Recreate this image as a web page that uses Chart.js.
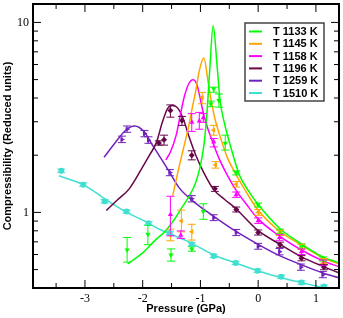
<!DOCTYPE html>
<html>
<head>
<meta charset="utf-8">
<script src="https://cdn.jsdelivr.net/npm/chart.js@4.4.0/dist/chart.umd.min.js"></script>
<style>
  body { margin: 0; background: #fff; }
  canvas { display: block; }
</style>
</head>
<body>
<canvas id="chart" width="343" height="318"></canvas>
<script>
// axis ticks
var xMajorTicks = [-3, -2, -1, 0, 1];
var xMinorTicks = [-3.5, -2.5, -1.5, -0.5, 0.5];
var yMajorTicks = [1, 10];
var yMinorTicks = [0.5, 0.6, 0.7, 0.8, 0.9, 2, 3, 4, 5, 6, 7, 8, 9];

// T 1133 K : fit line + data (with error bars)
var fit1133x = [-2.26, -2.00, -1.80, -1.61, -1.45, -1.32, -1.20, -1.09, -1.01, -0.94, -0.89, -0.84, -0.78, -0.71, -0.66, -0.58, -0.46, -0.32, -0.16, 0.0, 0.37, 0.75, 1.12, 1.40];
var fit1133y = [0.536, 0.612, 0.706, 0.796, 0.92, 1.062, 1.211, 1.416, 1.715, 2.26, 3.24, 5.55, 9.64, 5.83, 3.88, 2.91, 2.13, 1.56, 1.287, 1.10, 0.825, 0.681, 0.583, 0.542];
var p1133x = [-2.27, -1.91, -1.51, -1.15, -0.95, -0.82, -0.77, -0.68, -0.57, -0.38, 0.0, 0.38, 0.75, 1.12];
var p1133y = [0.634, 0.768, 0.597, 0.642, 1.012, 3.72, 4.46, 3.88, 2.31, 1.615, 1.094, 0.796, 0.665, 0.569];
var p1133lo = [0.547, 0.676, 0.554, 0.625, 0.92, 3.6, 4.29, 3.58, 2.13, 1.575, 1.067, 0.776, 0.648, 0.555];
var p1133hi = [0.738, 0.855, 0.642, 0.66, 1.11, 3.85, 4.56, 4.2, 2.55, 1.655, 1.12, 0.816, 0.682, 0.583];

// T 1145 K
var fit1145x = [-1.48, -1.37, -1.28, -1.20, -1.13, -1.08, -1.02, -0.94, -0.87, -0.82, -0.75, -0.65, -0.53, -0.39, -0.20, -0.01, 0.37, 0.75, 1.12, 1.40];
var fit1145y = [1.226, 1.736, 2.26, 2.87, 3.70, 4.37, 5.56, 6.49, 4.93, 3.97, 3.12, 2.46, 1.93, 1.596, 1.27, 1.036, 0.796, 0.673, 0.576, 0.536];
var p1145x = [-1.52, -1.33, -1.15, -0.97, -0.77, -0.74, -0.38, 0.0, 0.38, 0.75, 1.13];
var p1145y = [0.763, 0.901, 0.792, 4.02, 2.71, 1.778, 1.407, 1.0, 0.779, 0.659, 0.556];
var p1145lo = [0.709, 0.79, 0.715, 3.73, 2.55, 1.71, 1.36, 0.965, 0.755, 0.64, 0.54];
var p1145hi = [0.816, 1.028, 0.866, 4.28, 2.87, 1.85, 1.455, 1.035, 0.805, 0.68, 0.572];

// T 1158 K
var fit1158x = [-1.60, -1.52, -1.42, -1.35, -1.28, -1.21, -1.13, -1.06, -1.01, -0.96, -0.89, -0.80, -0.68, -0.54, -0.39, -0.20, -0.01, 0.37, 0.75, 1.12, 1.40];
var fit1158y = [1.888, 2.08, 2.55, 3.24, 4.06, 4.70, 4.99, 4.70, 4.06, 3.44, 2.87, 2.40, 1.93, 1.58, 1.318, 1.10, 0.93, 0.75, 0.634, 0.556, 0.517];
var p1158x = [-1.52, -1.34, -1.15, -1.02, -0.95, -0.77, -0.38, 0.0, 0.37, 0.75, 1.13];
var p1158y = [0.976, 0.759, 2.98, 3.03, 3.15, 2.35, 1.24, 0.905, 0.738, 0.621, 0.543];
var p1158lo = [0.753, 0.73, 2.67, 2.74, 2.98, 2.21, 1.20, 0.875, 0.713, 0.60, 0.525];
var p1158hi = [1.216, 0.799, 3.31, 3.36, 3.31, 2.45, 1.28, 0.935, 0.763, 0.642, 0.561];

// T 1196 K
var fit1196x = [-2.63, -2.43, -2.23, -2.00, -1.88, -1.76, -1.66, -1.57, -1.49, -1.40, -1.30, -1.20, -1.08, -0.94, -0.77, -0.58, -0.39, -0.01, 0.37, 0.75, 1.14, 1.40];
var fit1196y = [1.024, 1.169, 1.334, 1.736, 2.006, 2.344, 2.98, 3.52, 3.65, 3.56, 3.12, 2.52, 2.0, 1.615, 1.318, 1.169, 1.049, 0.806, 0.681, 0.583, 0.517, 0.481];
var p1196x = [-1.72, -1.63, -1.52, -1.32, -1.15, -0.75, -0.38, 0.0, 0.38, 0.75, 1.14];
var p1196y = [2.32, 2.41, 3.44, 3.05, 2.0, 1.33, 1.036, 0.784, 0.676, 0.574, 0.515];
var p1196lo = [2.26, 2.26, 3.17, 2.87, 1.89, 1.29, 1.005, 0.76, 0.655, 0.556, 0.499];
var p1196hi = [2.38, 2.55, 3.68, 3.20, 2.11, 1.37, 1.067, 0.808, 0.697, 0.592, 0.531];

// T 1259 K
var fit1259x = [-2.67, -2.48, -2.28, -2.14, -1.97, -1.85, -1.71, -1.54, -1.37, -1.15, -0.77, -0.39, -0.01, 0.37, 0.75, 1.12, 1.40];
var fit1259y = [1.95, 2.32, 2.73, 2.85, 2.65, 2.31, 1.98, 1.64, 1.35, 1.16, 0.953, 0.796, 0.681, 0.592, 0.53, 0.48, 0.453];
var p1259x = [-2.36, -2.27, -1.97, -1.90, -1.53, -1.15, -0.77, -0.38, 0.0, 0.37, 0.74, 1.12];
var p1259y = [2.42, 2.74, 2.60, 2.40, 1.62, 1.18, 0.938, 0.784, 0.663, 0.621, 0.515, 0.47];
var p1259lo = [2.33, 2.64, 2.50, 2.31, 1.56, 1.135, 0.905, 0.755, 0.64, 0.598, 0.496, 0.453];
var p1259hi = [2.52, 2.85, 2.70, 2.50, 1.68, 1.225, 0.972, 0.813, 0.687, 0.645, 0.535, 0.488];

// T 1510 K
var fit1510x = [-3.45, -3.03, -2.64, -2.30, -2.00, -1.71, -1.20, -0.77, -0.39, -0.01, 0.40, 0.75, 1.16];
var fit1510y = [1.56, 1.40, 1.17, 1.01, 0.91, 0.815, 0.70, 0.597, 0.542, 0.493, 0.453, 0.427, 0.40];
var p1510x = [-3.41, -3.03, -2.66, -2.28, -1.90, -1.53, -1.15, -0.77, -0.39, -0.01, 0.40, 0.75, 1.14];
var p1510y = [1.655, 1.40, 1.145, 1.01, 0.877, 0.78, 0.679, 0.59, 0.542, 0.493, 0.458, 0.427, 0.407];
var p1510lo = [1.62, 1.37, 1.12, 0.99, 0.86, 0.765, 0.665, 0.578, 0.531, 0.483, 0.449, 0.418, 0.401];
var p1510hi = [1.69, 1.43, 1.17, 1.03, 0.895, 0.795, 0.693, 0.602, 0.553, 0.503, 0.467, 0.436, 0.415];

var labels = ['T 1133 K', 'T 1145 K', 'T 1158 K', 'T 1196 K', 'T 1259 K', 'T 1510 K'];
var colors = ['#00ff00', '#ffa500', '#ff00ff', '#670748', '#7221bc', '#40e0d0'];

var series = [
    { fx: fit1133x, fy: fit1133y, x: p1133x, y: p1133y, lo: p1133lo, hi: p1133hi, style: 'triangle', rot: 180 },
    { fx: fit1145x, fy: fit1145y, x: p1145x, y: p1145y, lo: p1145lo, hi: p1145hi, style: 'triangle', rot: 270 },
    { fx: fit1158x, fy: fit1158y, x: p1158x, y: p1158y, lo: p1158lo, hi: p1158hi, style: 'triangle', rot: 0 },
    { fx: fit1196x, fy: fit1196y, x: p1196x, y: p1196y, lo: p1196lo, hi: p1196hi, style: 'rectRot', rot: 0 },
    { fx: fit1259x, fy: fit1259y, x: p1259x, y: p1259y, lo: p1259lo, hi: p1259hi, style: 'triangle', rot: 90 },
    { fx: fit1510x, fy: fit1510y, x: p1510x, y: p1510y, lo: p1510lo, hi: p1510hi, style: 'circle', rot: 0 }
];

var datasets = [];
series.forEach((s, i) => {
    datasets.push({
        label: labels[i],
        data: s.fx.map((v, j) => ({ x: v, y: s.fy[j] })),
        showLine: true,
        cubicInterpolationMode: 'monotone',
        borderColor: colors[i],
        borderWidth: 1.5,
        pointRadius: 0,
        fill: false
    });
    datasets.push({
        label: labels[i] + ' data',
        data: s.x.map((v, j) => ({ x: v, y: s.y[j] })),
        showLine: false,
        pointStyle: s.style,
        rotation: s.rot,
        pointRadius: 3,
        backgroundColor: colors[i],
        borderColor: colors[i],
        borderWidth: 0,
        errLo: s.lo,
        errHi: s.hi
    });
});

// vertical error bars with caps
const errorBars = {
    id: 'errorBars',
    afterDatasetsDraw(chart) {
        const ctx = chart.ctx, ys = chart.scales.y;
        ctx.save();
        ctx.lineWidth = 1;
        chart.data.datasets.forEach((ds, i) => {
            if (!ds.errLo) return;
            chart.getDatasetMeta(i).data.forEach((pt, j) => {
                const y1 = ys.getPixelForValue(ds.errLo[j]);
                const y2 = ys.getPixelForValue(ds.errHi[j]);
                ctx.strokeStyle = ds.borderColor;
                ctx.beginPath();
                ctx.moveTo(pt.x, y1); ctx.lineTo(pt.x, y2);
                ctx.moveTo(pt.x - 4, y1); ctx.lineTo(pt.x + 4, y1);
                ctx.moveTo(pt.x - 4, y2); ctx.lineTo(pt.x + 4, y2);
                ctx.stroke();
            });
        });
        ctx.restore();
    }
};

// frame, inward ticks on all four sides, boxed legend
const frame = {
    id: 'frame',
    afterDraw(chart) {
        const ctx = chart.ctx, a = chart.chartArea;
        const xs = chart.scales.x, ys = chart.scales.y;
        ctx.save();
        ctx.strokeStyle = '#000';
        ctx.lineWidth = 1;
        ctx.beginPath();
        const xt = (v, len) => {
            const p = xs.getPixelForValue(v);
            ctx.moveTo(p, a.bottom); ctx.lineTo(p, a.bottom - len);
            ctx.moveTo(p, a.top); ctx.lineTo(p, a.top + len);
        };
        const yt = (v, len) => {
            const p = ys.getPixelForValue(v);
            ctx.moveTo(a.left, p); ctx.lineTo(a.left + len, p);
            ctx.moveTo(a.right, p); ctx.lineTo(a.right - len, p);
        };
        xMajorTicks.forEach(v => xt(v, 8));
        xMinorTicks.forEach(v => xt(v, 5));
        yMajorTicks.forEach(v => yt(v, 8));
        yMinorTicks.forEach(v => yt(v, 5));
        ctx.stroke();
        ctx.lineWidth = 2;
        ctx.strokeRect(a.left, a.top, a.right - a.left, a.bottom - a.top);

        // legend
        ctx.fillStyle = '#fff';
        ctx.fillRect(245, 23, 79, 78);
        ctx.strokeStyle = '#444';
        ctx.lineWidth = 1.5;
        ctx.strokeRect(245, 23, 79, 78);
        ctx.font = 'bold 11px "Liberation Sans", Arial, sans-serif';
        ctx.textBaseline = 'middle';
        ctx.fillStyle = '#000';
        labels.forEach((t, i) => {
            const y = 31.5 + i * 12.3;
            ctx.strokeStyle = colors[i];
            ctx.lineWidth = 2;
            ctx.beginPath();
            ctx.moveTo(249, y); ctx.lineTo(262, y);
            ctx.stroke();
            ctx.fillText(t, 273, y + 0.5);
        });
        ctx.restore();
    }
};

new Chart('chart', {
    type: 'scatter',
    data: { datasets: datasets },
    options: {
        responsive: false,
        animation: false,
        devicePixelRatio: 1,
        layout: { padding: { top: 3, right: 3, left: 0, bottom: 0 } },
        plugins: { legend: { display: false }, tooltip: { enabled: false } },
        scales: {
            x: {
                type: 'linear', min: -3.9, max: 1.4,
                grid: { display: false, drawTicks: false },
                border: { display: false },
                afterBuildTicks: s => { s.ticks = xMajorTicks.map(v => ({ value: v })) },
                afterFit: s => { s.height = 30; s.paddingLeft = 0; s.paddingRight = 0 },
                ticks: {
                    font: { family: 'Liberation Serif', size: 12 }, color: '#000',
                    padding: 4, maxRotation: 0, autoSkip: false,
                    callback: v => String(v)
                },
                title: {
                    display: true, text: 'Pressure (GPa)', color: '#000',
                    font: { family: 'Liberation Sans', weight: 'bold', size: 11 },
                    padding: { top: 0, bottom: 2 }
                }
            },
            y: {
                type: 'logarithmic', min: 0.4, max: 12.5,
                grid: { display: false, drawTicks: false },
                border: { display: false },
                afterBuildTicks: s => { s.ticks = yMajorTicks.map(v => ({ value: v })) },
                afterFit: s => { s.width = 33; s.paddingTop = 0; s.paddingBottom = 0 },
                ticks: {
                    font: { family: 'Liberation Serif', size: 12 }, color: '#000',
                    padding: 4, autoSkip: false,
                    callback: v => String(v)
                },
                title: {
                    display: true, text: 'Compressibility (Reduced units)', color: '#000',
                    font: { family: 'Liberation Sans', weight: 'bold', size: 11 },
                    padding: { top: 1, bottom: 0 }
                }
            }
        }
    },
    plugins: [errorBars, frame]
});
</script>
</body>
</html>
